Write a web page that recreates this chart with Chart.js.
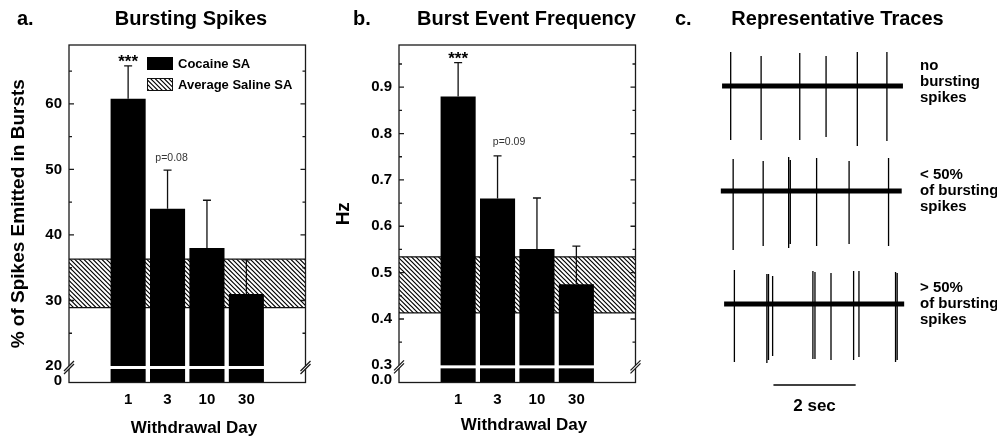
<!DOCTYPE html>
<html>
<head>
<meta charset="utf-8">
<script src="https://cdn.jsdelivr.net/npm/chart.js@4.4.1/dist/chart.umd.min.js"></script>
<style>
  body { margin: 0; background: #fff; }
  canvas { position: absolute; top: 0; }
</style>
</head>
<body>
<canvas id="chartA" width="330" height="439" style="left:0"></canvas>
<canvas id="chartB" width="330" height="439" style="left:330px"></canvas>
<canvas id="chartC" width="337" height="439" style="left:660px"></canvas>
<script>
// withdrawal days
const day_labels = ['1', '3', '10', '30'];

// a. % of spikes emitted in bursts
const pct_mean = [60.8, 44.0, 38.0, 31.0];
const pct_sem = [5.0, 5.9, 7.3, 5.2];
const pct_saline = [28.9, 36.3];   // saline band low / high
const pct_ticks = [20, 30, 40, 50, 60];
const pct_tick_labels = ['0', '20', '30', '40', '50', '60'];

// b. burst event frequency (Hz)
const hz_mean = [0.88, 0.66, 0.551, 0.475];
const hz_sem = [0.073, 0.092, 0.11, 0.082];
const hz_saline = [0.413, 0.534];
const hz_ticks = [0.3, 0.4, 0.5, 0.6, 0.7, 0.8, 0.9];
const hz_tick_labels = ['0.0', '0.3', '0.4', '0.5', '0.6', '0.7', '0.8', '0.9'];

// c. traces: spike times (s), amplitude up / down, start-end of recording
const trace1_times = [0.26, 1.00, 1.94, 2.58, 3.34, 4.06];
const trace1_up = [34, 30, 33, 30, 34, 34];
const trace1_down = [54, 54, 54, 51, 60, 55];
const trace1_span = [0.05, 4.45];

const trace2_times = [0.32, 1.05, 1.67, 1.71, 2.35, 3.14, 4.10];
const trace2_up = [32, 30, 34, 31, 33, 30, 33];
const trace2_down = [59, 55, 57, 53, 55, 53, 55];
const trace2_span = [0.02, 4.42];

const trace3_times = [0.35, 1.14, 1.18, 1.28, 2.26, 2.31, 2.70, 3.25, 3.38, 4.27, 4.31];
const trace3_up = [34, 30, 30, 28, 33, 32, 31, 33, 33, 32, 31];
const trace3_down = [58, 59, 56, 52, 55, 55, 56, 56, 53, 58, 56];
const trace3_span = [0.10, 4.48];

const trace_labels = [['no', 'bursting', 'spikes'], ['< 50%', 'of bursting', 'spikes'], ['> 50%', 'of bursting', 'spikes']];

const FONT = '"Liberation Sans", Arial, sans-serif';
Chart.defaults.font.family = FONT;
Chart.defaults.color = '#000';

// diagonal "\\\" hatch, about 4.5px apart
function hatchPattern(ctx) {
    const c = document.createElement('canvas');
    c.width = 9; c.height = 9;
    const g = c.getContext('2d');
    g.strokeStyle = '#000';
    g.lineWidth = 1.2;
    g.beginPath();
    [-9, -4.5, 0, 4.5, 9].forEach(d => {
        g.moveTo(d - 1, -1);
        g.lineTo(d + 10, 10);
    });
    g.stroke();
    return ctx.createPattern(c, 'repeat');
}

function makeBarChart(id, cfg) {
    const canvas = document.getElementById(id);
    const ctx = canvas.getContext('2d');
    const hatch = hatchPattern(ctx);
    const x_of = i => i + 1.5;

    const extras = {
        id: 'extras_' + id,
        afterDatasetsDraw(chart) {
            const { chartArea: a, scales: { x, y } } = chart;
            ctx.save();
            // error bars (upper only)
            ctx.strokeStyle = '#111';
            ctx.lineWidth = 1.3;
            cfg.mean.forEach((m, i) => {
                const px = x.getPixelForValue(x_of(i));
                const top = y.getPixelForValue(m + cfg.sem[i]);
                ctx.beginPath();
                ctx.moveTo(px, y.getPixelForValue(m));
                ctx.lineTo(px, top);
                ctx.moveTo(px - 4, top);
                ctx.lineTo(px + 4, top);
                ctx.stroke();
            });
            // axis break cut through the bars
            const yb = y.getPixelForValue(cfg.break_val);
            ctx.fillStyle = '#fff';
            ctx.fillRect(a.left + 1, yb, a.right - a.left - 2, 3);

            // significance marks
            const top0 = y.getPixelForValue(cfg.mean[0] + cfg.sem[0]);
            ctx.fillStyle = '#000';
            ctx.font = 'bold 17px ' + FONT;
            ctx.textAlign = 'center';
            ctx.textBaseline = 'alphabetic';
            ctx.fillText('***', x.getPixelForValue(x_of(0)), top0 + 1);
            const top1 = y.getPixelForValue(cfg.mean[1] + cfg.sem[1]);
            ctx.fillStyle = '#333';
            ctx.font = '10.5px ' + FONT;
            ctx.fillText(cfg.p_text, x.getPixelForValue(x_of(1)) + cfg.p_dx, top1 - cfg.p_dy);

            // legend
            if (cfg.legend) {
                ctx.fillStyle = '#000';
                ctx.fillRect(147, 57, 26, 13);
                ctx.fillStyle = hatch;
                ctx.fillRect(147, 78, 26, 13);
                ctx.strokeStyle = '#111';
                ctx.lineWidth = 1;
                ctx.strokeRect(147.5, 78.5, 25, 12);
                ctx.fillStyle = '#000';
                ctx.font = 'bold 13px ' + FONT;
                ctx.textAlign = 'left';
                ctx.fillText('Cocaine SA', 178, 68);
                ctx.fillText('Average Saline SA', 178, 89);
            }
            ctx.restore();
        },
        afterDraw(chart) {
            const { chartArea: a, scales: { y } } = chart;
            ctx.save();
            ctx.strokeStyle = '#1a1a1a';
            ctx.lineWidth = 1.3;
            ctx.strokeRect(a.left, a.top, a.right - a.left, a.bottom - a.top);
            // inward ticks on both sides
            ctx.beginPath();
            const step = cfg.ticks[1] - cfg.ticks[0];
            cfg.ticks.slice(1).forEach(v => {
                const py = y.getPixelForValue(v);
                ctx.moveTo(a.left, py); ctx.lineTo(a.left + 5, py);
                ctx.moveTo(a.right, py); ctx.lineTo(a.right - 5, py);
            });
            for (let k = 0; cfg.break_val + step * (k + 0.5) < y.max; k++) {
                const py = y.getPixelForValue(cfg.break_val + step * (k + 0.5));
                ctx.moveTo(a.left, py); ctx.lineTo(a.left + 3, py);
                ctx.moveTo(a.right, py); ctx.lineTo(a.right - 3, py);
            }
            ctx.stroke();
            // break marks //
            const yb = y.getPixelForValue(cfg.break_val) + 1.5;
            [a.left, a.right].forEach(px => {
                ctx.fillStyle = '#fff';
                ctx.beginPath();
                ctx.moveTo(px - 5, yb + 3.5);
                ctx.lineTo(px + 5, yb - 6.5);
                ctx.lineTo(px + 5, yb - 3.5);
                ctx.lineTo(px - 5, yb + 6.5);
                ctx.closePath();
                ctx.fill();
                ctx.beginPath();
                ctx.moveTo(px - 5, yb + 3.5); ctx.lineTo(px + 5, yb - 6.5);
                ctx.moveTo(px - 5, yb + 6.5); ctx.lineTo(px + 5, yb - 3.5);
                ctx.stroke();
            });
            // panel letter + title, x axis title
            ctx.fillStyle = '#000';
            ctx.font = 'bold 20px ' + FONT;
            ctx.textAlign = 'left';
            ctx.fillText(cfg.letter, cfg.letter_x, 25);
            ctx.textAlign = 'center';
            ctx.fillText(cfg.title, cfg.title_x, 25);
            ctx.font = 'bold 17px ' + FONT;
            ctx.fillText('Withdrawal Day', 194, cfg.xtitle_y);
            ctx.restore();
        }
    };

    return new Chart(canvas, {
        type: 'bar',
        data: {
            datasets: [
                {
                    type: 'line',
                    label: 'saline low',
                    data: [{ x: 0, y: cfg.saline[0] }, { x: 6, y: cfg.saline[0] }],
                    borderColor: '#111', borderWidth: 1.2, pointRadius: 0, fill: false, order: 2
                },
                {
                    type: 'line',
                    label: 'Average Saline SA',
                    data: [{ x: 0, y: cfg.saline[1] }, { x: 6, y: cfg.saline[1] }],
                    borderColor: '#111', borderWidth: 1.2, pointRadius: 0,
                    fill: '-1', backgroundColor: hatch, order: 3
                },
                {
                    label: 'Cocaine SA',
                    data: cfg.mean.map((v, i) => ({ x: x_of(i), y: v })),
                    backgroundColor: '#000',
                    barPercentage: 0.89,
                    categoryPercentage: 1,
                    order: 1
                }
            ]
        },
        options: {
            responsive: false,
            animation: false,
            layout: { padding: { top: 45, right: 24.5, bottom: 0, left: 0 } },
            plugins: { legend: { display: false }, tooltip: { enabled: false } },
            scales: {
                x: {
                    type: 'linear', min: 0, max: 6, offset: false,
                    grid: { display: false, drawTicks: false },
                    border: { display: false },
                    afterBuildTicks: s => { s.ticks = day_labels.map((d, i) => ({ value: x_of(i) })); },
                    afterFit: s => { s.height = 56.5; },
                    ticks: {
                        callback: (v, i) => day_labels[i],
                        autoSkip: false, maxRotation: 0, padding: 8,
                        font: { size: 15, weight: 'bold' }
                    }
                },
                y: {
                    min: cfg.y_min, max: cfg.y_max,
                    grid: { display: false, drawTicks: false },
                    border: { display: false },
                    afterBuildTicks: s => {
                        s.ticks = [{ value: cfg.zero_at }].concat(cfg.ticks.map(v => ({ value: v })));
                    },
                    afterFit: s => { s.width = 69; },
                    ticks: {
                        callback: (v, i) => cfg.tick_labels[i],
                        padding: 7,
                        font: { size: 15, weight: 'bold' }
                    },
                    title: {
                        display: true, text: cfg.y_title,
                        font: { size: 19, weight: 'bold' },
                        padding: { top: cfg.ytitle_pad, bottom: 0 }
                    }
                }
            }
        },
        plugins: [extras]
    });
}

makeBarChart('chartA', {
    mean: pct_mean, sem: pct_sem, saline: pct_saline,
    ticks: pct_ticks, tick_labels: pct_tick_labels,
    y_min: 17.48, y_max: 69, zero_at: 17.72, break_val: 20,
    y_title: '% of Spikes Emitted in Bursts', ytitle_pad: 7, xtitle_y: 433,
    letter: 'a.', letter_x: 17, title: 'Bursting Spikes', title_x: 191,
    p_text: 'p=0.08', p_dx: 4, p_dy: 9, legend: true
});

makeBarChart('chartB', {
    mean: hz_mean, sem: hz_sem, saline: hz_saline,
    ticks: hz_ticks, tick_labels: hz_tick_labels,
    y_min: 0.263, y_max: 0.991, zero_at: 0.2685, break_val: 0.3,
    y_title: 'Hz', ytitle_pad: 2, xtitle_y: 429.5,
    letter: 'b.', letter_x: 23, title: 'Burst Event Frequency', title_x: 196.5,
    p_text: 'p=0.09', p_dx: 11.5, p_dy: 10.5, legend: false
});

// ---- c. representative traces ----
const trace_offsets = [0, -105, -218];

function spikePoints(times, up, down, off) {
    const pts = [];
    times.forEach((t, i) => {
        pts.push({ x: t, y: off + up[i] }, { x: t, y: off - down[i] }, { x: t, y: null });
    });
    return pts;
}

const traces = [
    [trace1_times, trace1_up, trace1_down, trace1_span],
    [trace2_times, trace2_up, trace2_down, trace2_span],
    [trace3_times, trace3_up, trace3_down, trace3_span]
];

const trace_sets = [];
traces.forEach(([times, up, down, span], k) => {
    const off = trace_offsets[k];
    trace_sets.push({
        data: [{ x: span[0], y: off }, { x: span[1], y: off }],
        borderColor: '#000', borderWidth: 5, pointRadius: 0
    });
    trace_sets.push({
        data: spikePoints(times, up, down, off),
        borderColor: '#000', borderWidth: 1.3, pointRadius: 0, spanGaps: false
    });
});
// 2 sec scale bar
trace_sets.push({
    data: [{ x: 1.3, y: -299 }, { x: 3.3, y: -299 }],
    borderColor: '#000', borderWidth: 1.5, pointRadius: 0
});

const traceText = {
    id: 'traceText',
    afterDraw(chart) {
        const { ctx, scales: { x, y } } = chart;
        ctx.save();
        ctx.fillStyle = '#000';
        ctx.font = 'bold 20px ' + FONT;
        ctx.textAlign = 'left';
        ctx.fillText('c.', 15, 25);
        ctx.textAlign = 'center';
        ctx.fillText('Representative Traces', 177.5, 25);

        ctx.font = 'bold 17px ' + FONT;
        ctx.fillText('2 sec', x.getPixelForValue(2.3), 411);

        ctx.font = 'bold 15px ' + FONT;
        ctx.textAlign = 'left';
        const first_line = [-16, -12.5, -12.5];
        trace_labels.forEach((lines, k) => {
            const base = y.getPixelForValue(trace_offsets[k]) + first_line[k];
            lines.forEach((t, j) => ctx.fillText(t, 260, base + j * 16));
        });
        ctx.restore();
    }
};

new Chart(document.getElementById('chartC'), {
    type: 'line',
    data: { datasets: trace_sets },
    options: {
        responsive: false,
        animation: false,
        layout: { padding: { left: 60, right: 92, top: 40, bottom: 49 } },
        plugins: { legend: { display: false }, tooltip: { enabled: false } },
        scales: {
            x: { type: 'linear', min: 0, max: 4.5, display: false },
            y: { min: -304, max: 46, display: false }
        }
    },
    plugins: [traceText]
});
</script>
</body>
</html>
